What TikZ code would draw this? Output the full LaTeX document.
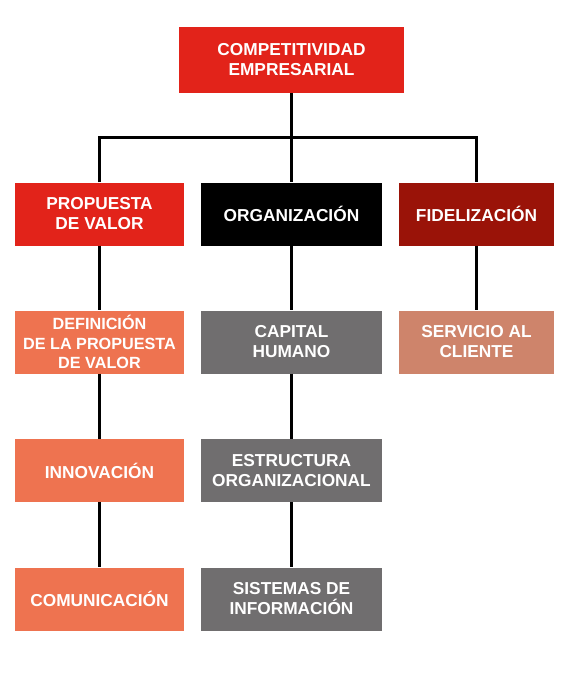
\documentclass[tikz,border=0pt]{standalone}
\usepackage{fontspec}
\setmainfont{Liberation Sans}
\definecolor{cred}{HTML}{E2231A}
\definecolor{cdark}{HTML}{9A1308}
\definecolor{corange}{HTML}{EE7350}
\definecolor{cgray}{HTML}{706E6F}
\definecolor{csalmon}{HTML}{CE846B}
\begin{document}
\begin{tikzpicture}[x=1pt,y=-1pt,
  box/.style={rectangle,inner sep=0pt,minimum height=63pt,text=white,align=center,
    font=\fontsize{17.3}{20}\selectfont\bfseries},
  conn/.style={draw=black,line width=3pt}]
\useasboundingbox (0,0) rectangle (565,683);
\node[box,fill=cred,minimum width=225pt,minimum height=66pt] (top) at (291.5,60) {COMPETITIVIDAD\\EMPRESARIAL};
\node[box,fill=cred,minimum width=169pt] (prop) at (99.5,214) {PROPUESTA\\DE VALOR};
\node[box,fill=black,minimum width=181pt] (org) at (291.5,214) {ORGANIZACIÓN};
\node[box,fill=cdark,minimum width=155pt] (fid) at (476.5,214) {FIDELIZACIÓN};
\node[box,fill=corange,minimum width=169pt,font=\fontsize{16.2}{19.3}\selectfont\bfseries] (def) at (99.5,342) {DEFINICIÓN\\DE LA PROPUESTA\\DE VALOR};
\node[box,fill=cgray,minimum width=181pt] (cap) at (291.5,342) {CAPITAL\\HUMANO};
\node[box,fill=csalmon,minimum width=155pt] (ser) at (476.5,342) {SERVICIO AL\\CLIENTE};
\node[box,fill=corange,minimum width=169pt] (inn) at (99.5,470.5) {INNOVACIÓN};
\node[box,fill=cgray,minimum width=181pt] (est) at (291.5,470.5) {ESTRUCTURA\\ORGANIZACIONAL};
\node[box,fill=corange,minimum width=169pt] (com) at (99.5,599) {COMUNICACIÓN};
\node[box,fill=cgray,minimum width=181pt] (sis) at (291.5,599) {SISTEMAS DE\\INFORMACIÓN};
\coordinate (bus) at (291.5,137);
\draw[conn] (top.south) -- (bus);
\draw[conn] (prop.north) |- (bus) -| (fid.north);
\draw[conn] (bus) -- (org.north);
\draw[conn] (prop.south) -- (def.north);
\draw[conn] (def.south) -- (inn.north);
\draw[conn] (inn.south) -- (com.north);
\draw[conn] (org.south) -- (cap.north);
\draw[conn] (cap.south) -- (est.north);
\draw[conn] (est.south) -- (sis.north);
\draw[conn] (fid.south) -- (ser.north);
\end{tikzpicture}
\end{document}
